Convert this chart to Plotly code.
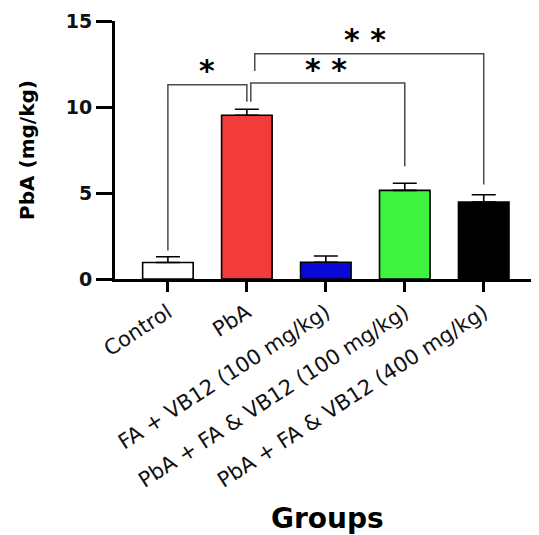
import plotly.graph_objects as go

# ---- data ----
groups = ["Control", "PbA", "FA + VB12 (100 mg/kg)",
          "PbA + FA & VB12 (100 mg/kg)", "PbA + FA & VB12 (400 mg/kg)"]
means = [0.96, 9.52, 0.97, 5.15, 4.48]
sems = [0.33, 0.35, 0.37, 0.42, 0.42]
bar_colors = ["#ffffff", "#f23c3c", "#0a0ad8", "#3ef43e", "#000000"]

# significance comparisons (group index pairs, bracket level, leg ends, label)
comp_left = [0, 1, 1]
comp_right = [1, 3, 4]
comp_level = [11.3, 11.4, 13.1]
comp_left_end = [1.65, 10.3, 12.1]
comp_right_end = [10.3, 6.55, 5.5]
comp_label = ["*", "* *", "* *"]

y_ticks = [0, 5, 10, 15]

x_pos = list(range(len(groups)))
FONT = "DejaVu Sans"

fig = go.Figure()
fig.add_trace(go.Bar(
    x=x_pos, y=means, width=0.64,
    marker=dict(color=bar_colors, line=dict(color="#000000", width=1.6)),
    error_y=dict(type="data", symmetric=False, array=sems,
                 arrayminus=[0] * len(sems), color="#000000",
                 thickness=1.6, width=12),
    showlegend=False, hoverinfo="skip",
))

# brackets
left_nudge = [0.0, 0.05, 0.10]
for i in range(len(comp_left)):
    xl = comp_left[i] + (left_nudge[i] if comp_left[i] == 1 else 0)
    xr = comp_right[i]
    fig.add_trace(go.Scatter(
        x=[xl, xl, xr, xr],
        y=[comp_left_end[i], comp_level[i], comp_level[i], comp_right_end[i]],
        mode="lines", line=dict(color="#4a4a4a", width=1.5),
        showlegend=False, hoverinfo="skip",
    ))
    fig.add_annotation(
        x=(comp_left[i] + comp_right[i]) / 2, y=comp_level[i] + 0.8,
        text=comp_label[i], showarrow=False,
        font=dict(family=FONT, size=30, color="#000000", weight="bold"),
        xanchor="center", yanchor="middle",
    )

fig.add_annotation(
    x=0.5, xref="paper", y=-0.93, yref="paper", text="Groups",
    showarrow=False, xanchor="center", yanchor="middle",
    font=dict(family=FONT, size=28, color="#000000", weight="bold"),
)

# page body has an 8 px default margin, so the figure is 8 px smaller
fig.update_layout(
    width=531, height=527,
    margin=dict(l=107, r=0, t=13, b=256),
    paper_bgcolor="white", plot_bgcolor="white",
)
fig.update_xaxes(
    range=[-0.67, 4.70], tickmode="array", tickvals=x_pos, ticktext=groups,
    tickangle=-33, showgrid=False, zeroline=False,
    showline=True, linecolor="#000000", linewidth=3,
    ticks="outside", ticklen=10, tickwidth=3, tickcolor="#000000",
    tickfont=dict(family=FONT, size=21, color="#111111"),
    ticklabeloverflow="allow",
    automargin=False,
)
fig.update_yaxes(
    range=[0, 15], tickmode="array", tickvals=y_ticks,
    showgrid=False, zeroline=False,
    showline=True, linecolor="#000000", linewidth=3,
    ticks="outside", ticklen=16, tickwidth=3, tickcolor="#000000",
    tickfont=dict(family=FONT, size=19, color="#111111", weight="bold"),
    ticklabeloverflow="allow",
    title=dict(text="PbA (mg/kg)", standoff=26,
               font=dict(family=FONT, size=20, color="#000000", weight="bold")),
    automargin=False,
)

fig.write_html("out.html")
